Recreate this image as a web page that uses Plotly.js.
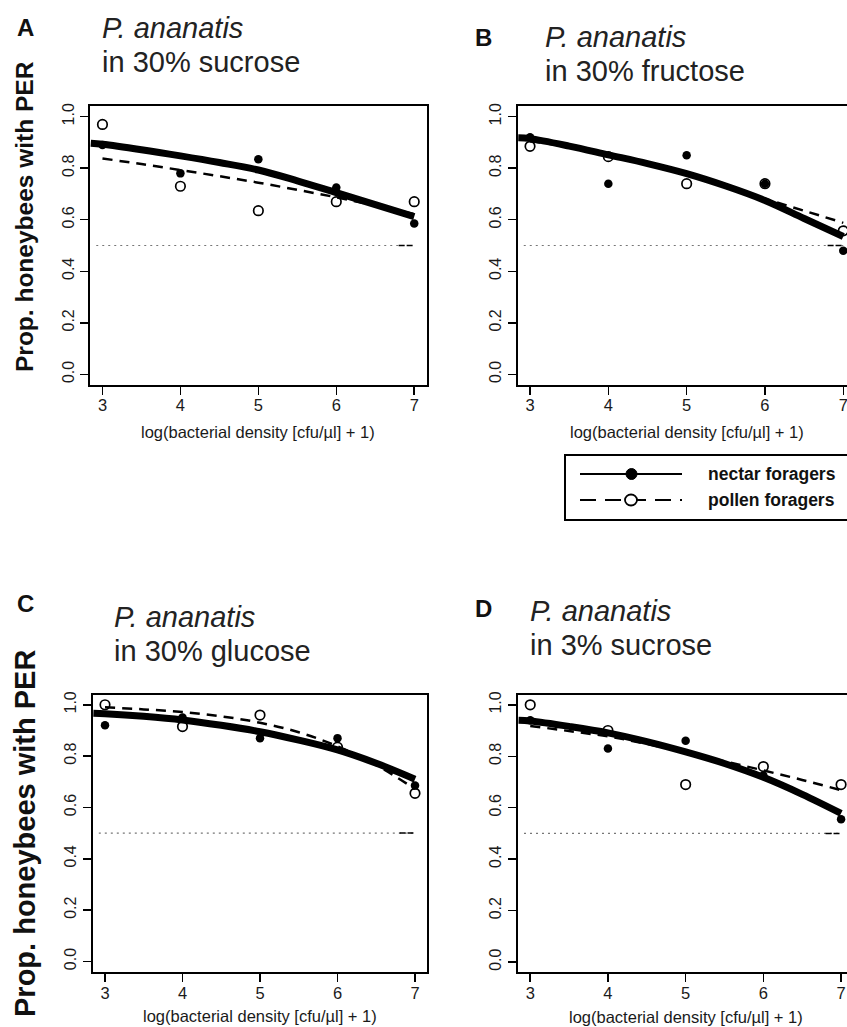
<!DOCTYPE html>
<html>
<head>
<meta charset="utf-8">
<script src="https://cdn.plot.ly/plotly-3.0.1.min.js"></script>
<style>
html,body{margin:0;padding:0;overflow:hidden;background:#fff;}
#chart{width:870px;height:1027px;}
</style>
</head>
<body>
<div id="chart"></div>
<script>
// ---------- data ----------
const xPts = [3, 4, 5, 6, 7];
const xFitSolid = [2.85, 3, 3.5, 4, 4.5, 5, 5.5, 6, 6.5, 7];
const xFitDash = [3, 3.5, 4, 4.5, 5, 5.5, 6, 6.5, 7];
const xRef = [2.92, 7.0];
const yRef = [0.5, 0.5];
const xSeg = [6.8, 6.98];
const ySeg = [0.5, 0.5];

const panelTitles = ["in 30% sucrose", "in 30% fructose", "in 30% glucose", "in 3% sucrose"];
const panelLetters = ["A", "B", "C", "D"];
const species = "P. ananatis";

const nectarA = [0.89, 0.78, 0.835, 0.725, 0.585];
const pollenA = [0.97, 0.73, 0.635, 0.67, 0.67];
const fitNectarA = [0.897, 0.893, 0.872, 0.848, 0.822, 0.793, 0.751, 0.705, 0.659, 0.612];
const fitPollenA = [0.838, 0.816, 0.793, 0.769, 0.744, 0.716, 0.687, 0.655, 0.622];

const nectarB = [0.92, 0.74, 0.85, 0.74, 0.48];
const pollenB = [0.885, 0.845, 0.74, 0.74, 0.557];
const fitNectarB = [0.918, 0.915, 0.886, 0.852, 0.818, 0.779, 0.731, 0.675, 0.605, 0.535];
const fitPollenB = [0.905, 0.882, 0.852, 0.818, 0.781, 0.737, 0.682, 0.635, 0.588];

const nectarC = [0.92, 0.95, 0.87, 0.87, 0.685];
const pollenC = [1.0, 0.915, 0.96, 0.835, 0.655];
const fitNectarC = [0.967, 0.965, 0.955, 0.941, 0.92, 0.895, 0.862, 0.824, 0.772, 0.71];
const fitPollenC = [0.99, 0.982, 0.972, 0.955, 0.93, 0.893, 0.838, 0.765, 0.672];

const nectarD = [0.94, 0.83, 0.86, 0.725, 0.555];
const pollenD = [1.0, 0.9, 0.69, 0.76, 0.69];
const fitNectarD = [0.94, 0.937, 0.916, 0.891, 0.857, 0.817, 0.772, 0.718, 0.652, 0.578];
const fitPollenD = [0.918, 0.898, 0.877, 0.848, 0.815, 0.78, 0.745, 0.708, 0.668];

const legendLabels = ["nectar foragers", "pollen foragers"];
const xTickVals = [3, 4, 5, 6, 7];
const yTickVals = [0, 0.2, 0.4, 0.6, 0.8, 1.0];
const yTickText = ["0.0", "0.2", "0.4", "0.6", "0.8", "1.0"];
const xTitle = "log(bacterial density [cfu/\u00b5l] + 1)";
const yTitle = "Prop. honeybees with PER";

// ---------- layout geometry (px) ----------
const W = 870, H = 1027;
const FONT = "Liberation Sans, Arial, sans-serif";
const panels = [
  {nectar: nectarA, pollen: pollenA, fitN: fitNectarA, fitP: fitPollenA, x0: 90, x1: 426.7, y0: 106.4, y1: 384.6},
  {nectar: nectarB, pollen: pollenB, fitN: fitNectarB, fitP: fitPollenB, x0: 517.5, x1: 855.8, y0: 106.4, y1: 384.6},
  {nectar: nectarC, pollen: pollenC, fitN: fitNectarC, fitP: fitPollenC, x0: 92.6, x1: 427.4, y0: 694.5, y1: 971.7},
  {nectar: nectarD, pollen: pollenD, fitN: fitNectarD, fitP: fitPollenD, x0: 517.8, x1: 853.5, y0: 694.5, y1: 972.4}
];

const traces = [];
const layout = {
  width: W, height: H,
  margin: {l: 0, r: 0, t: 0, b: 0},
  paper_bgcolor: "#ffffff",
  plot_bgcolor: "#ffffff",
  showlegend: false,
  font: {family: FONT, color: "#000"},
  annotations: [],
  shapes: []
};

panels.forEach((p, i) => {
  const n = i + 1;
  const xa = "x" + (n === 1 ? "" : n), ya = "y" + (n === 1 ? "" : n);
  const xk = "xaxis" + (n === 1 ? "" : n), yk = "yaxis" + (n === 1 ? "" : n);
  layout[xk] = {
    domain: [p.x0 / W, p.x1 / W], anchor: ya, range: [2.84, 7.16],
    tickvals: xTickVals, ticks: "outside", ticklen: 8, tickwidth: 1.5, tickcolor: "#000",
    showline: true, linewidth: 2, linecolor: "#000", mirror: true,
    showgrid: false, zeroline: false, fixedrange: true, ticklabelstandoff: -3,
    tickfont: {size: 16.5, color: "#1a1a1a"}
  };
  layout[yk] = {
    domain: [1 - p.y1 / H, 1 - p.y0 / H], anchor: xa, range: [-0.04, 1.04],
    tickvals: yTickVals, ticktext: yTickText, tickangle: -90,
    ticks: "outside", ticklen: 8, tickwidth: 1.5, tickcolor: "#000",
    showline: true, linewidth: 2, linecolor: "#000", mirror: true,
    showgrid: false, zeroline: false, fixedrange: true,
    tickfont: {size: 16, color: "#1a1a1a"}
  };
  // reference line at 0.5
  traces.push({x: xRef, y: yRef, xaxis: xa, yaxis: ya, mode: "lines", hoverinfo: "skip",
    line: {color: "#777", width: 1.2, dash: "2px,4px"}});
  traces.push({x: xSeg, y: ySeg, xaxis: xa, yaxis: ya, mode: "lines", hoverinfo: "skip",
    line: {color: "#000", width: 1.5, dash: "6px,2px"}});
  // points
  traces.push({x: xPts, y: p.pollen, xaxis: xa, yaxis: ya, mode: "markers", name: legendLabels[1],
    marker: {symbol: "circle-open", size: 9.5, color: "#000", line: {width: 1.7, color: "#000"}}});
  traces.push({x: xPts, y: p.nectar, xaxis: xa, yaxis: ya, mode: "markers", name: legendLabels[0],
    marker: {symbol: "circle", size: 8.5, color: "#000"}});
  // fitted curves
  traces.push({x: xFitDash, y: p.fitP, xaxis: xa, yaxis: ya, mode: "lines", name: legendLabels[1],
    line: {color: "#000", width: 2.5, dash: "10px,7px", shape: "spline"}});
  traces.push({x: xFitSolid, y: p.fitN, xaxis: xa, yaxis: ya, mode: "lines", name: legendLabels[0],
    line: {color: "#000", width: 7, shape: "spline"}});
});

// panel letters, titles, axis titles
const letterPos = [[25, 27], [483, 37], [25, 603], [483, 608]];
const titlePos = [[100, 28, 62], [543, 37, 71], [112, 617, 651], [528, 611, 645]];
const xTitlePos = [[258, 432], [687, 432], [260, 1016], [686, 1017]];
const yTitlePos = [[25, 217, 24.5], [25, 834, 29]];

function ann(x, y, text, size, extra) {
  return Object.assign({xref: "paper", yref: "paper", x: x / W, y: 1 - y / H, text: text,
    showarrow: false, font: {size: size, color: "#222", family: FONT},
    xanchor: "left", yanchor: "middle"}, extra || {});
}
for (let i = 0; i < 4; i++) {
  layout.annotations.push(ann(letterPos[i][0], letterPos[i][1], "<b>" + panelLetters[i] + "</b>", 24,
    {xanchor: "center", font: {size: 24, color: "#111", family: FONT}}));
  layout.annotations.push(ann(titlePos[i][0], titlePos[i][1], "<i>" + species + "</i>", 29));
  layout.annotations.push(ann(titlePos[i][0], titlePos[i][2], panelTitles[i], 29));
  layout.annotations.push(ann(xTitlePos[i][0], xTitlePos[i][1], xTitle, 16.5,
    {xanchor: "center", font: {size: 16.5, color: "#1a1a1a", family: FONT}}));
}
yTitlePos.forEach(pos => {
  layout.annotations.push(ann(pos[0], pos[1], "<b>" + yTitle + "</b>", pos[2],
    {xanchor: "center", textangle: -90, font: {size: pos[2], color: "#111", family: FONT}}));
});

// legend box (decoration)
const lg = {x0: 565, x1: 880, y0: 455, y1: 520};
layout.shapes.push({type: "rect", xref: "paper", yref: "paper", x0: lg.x0 / W, x1: lg.x1 / W,
  y0: 1 - lg.y1 / H, y1: 1 - lg.y0 / H, line: {color: "#000", width: 2}, fillcolor: "rgba(0,0,0,0)"});
const rows = [474, 500];
layout.shapes.push({type: "line", xref: "paper", yref: "paper", x0: 580 / W, x1: 682 / W,
  y0: 1 - rows[0] / H, y1: 1 - rows[0] / H, line: {color: "#000", width: 2}});
layout.shapes.push({type: "line", xref: "paper", yref: "paper", x0: 580 / W, x1: 682 / W,
  y0: 1 - rows[1] / H, y1: 1 - rows[1] / H, line: {color: "#000", width: 2, dash: "16px,9px"}});
layout.shapes.push({type: "circle", xref: "paper", yref: "paper", x0: 626 / W, x1: 637 / W,
  y0: 1 - (rows[0] + 5.5) / H, y1: 1 - (rows[0] - 5.5) / H, line: {color: "#000", width: 1}, fillcolor: "#000"});
layout.shapes.push({type: "circle", xref: "paper", yref: "paper", x0: 625 / W, x1: 637 / W,
  y0: 1 - (rows[1] + 5.5) / H, y1: 1 - (rows[1] - 5.5) / H, line: {color: "#000", width: 1.8}, fillcolor: "#fff"});
legendLabels.forEach((t, i) => {
  layout.annotations.push(ann(706, rows[i], "<b>" + t + "</b>", 17.5,
    {font: {size: 17.5, color: "#111", family: FONT}}));
});

Plotly.newPlot("chart", traces, layout, {staticPlot: true, displayModeBar: false});
</script>
</body>
</html>
